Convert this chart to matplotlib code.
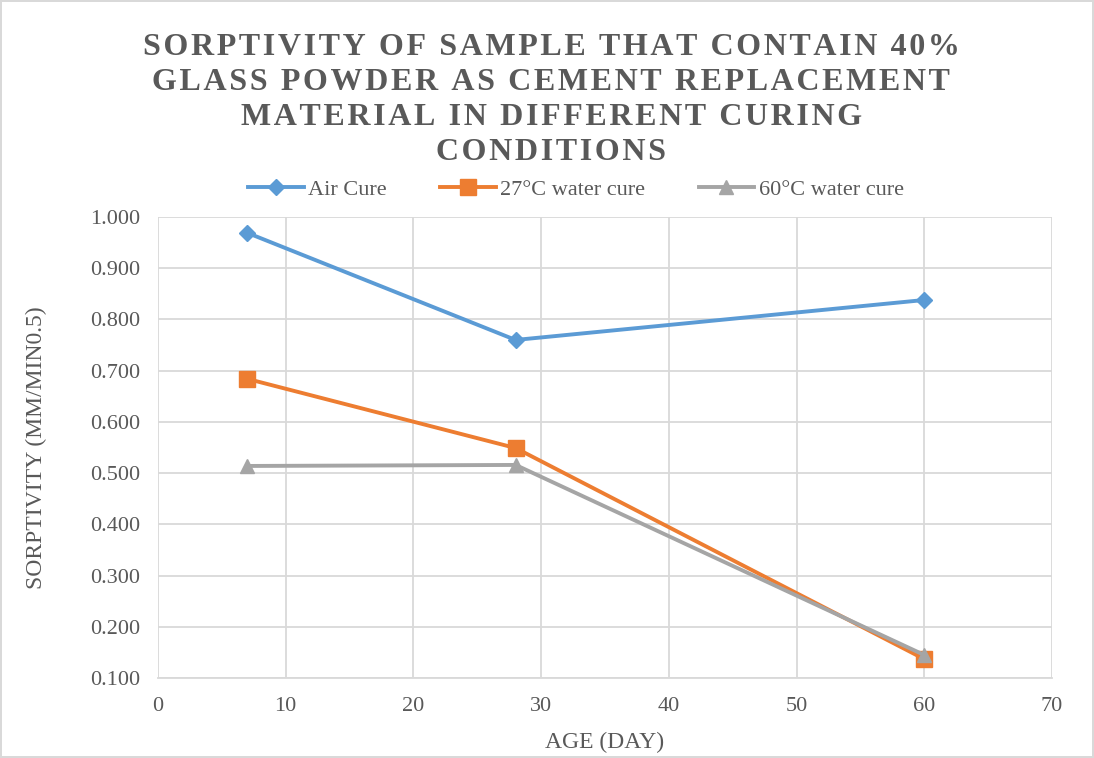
import matplotlib.pyplot as plt
from matplotlib.ticker import FormatStrFormatter

# data
age = [7, 28, 60]
air_cure = [0.969, 0.760, 0.838]
water_27 = [0.684, 0.549, 0.137]
water_60 = [0.514, 0.516, 0.145]

title_lines = ['SORPTIVITY OF SAMPLE THAT CONTAIN 40%',
               'GLASS POWDER AS CEMENT REPLACEMENT',
               'MATERIAL IN DIFFERENT CURING',
               'CONDITIONS']

plt.rcParams['font.family'] = ['Liberation Serif', 'DejaVu Serif']

fig = plt.figure(figsize=(10.94, 7.58), dpi=100)
fig.patch.set_edgecolor('#d9d9d9')
fig.patch.set_linewidth(1.5)
ax = fig.add_axes([0.1444, 0.1055, 0.8172, 0.6082])

ax.plot(age, air_cure, color='#5B9BD5', marker='D', markersize=8, linewidth=2.8, label='Air Cure')
ax.plot(age, water_27, color='#ED7D31', marker='s', markersize=11, linewidth=2.8, label='27°C water cure')
ax.plot(age, water_60, color='#A5A5A5', marker='^', markersize=10, linewidth=2.8, label='60°C water cure')

ax.set_xlim(0, 70)
ax.set_ylim(0.1, 1.0)
ax.set_xticks(range(0, 71, 10))
ax.set_yticks([0.1 * i for i in range(1, 11)])
ax.yaxis.set_major_formatter(FormatStrFormatter('%.3f'))
ax.grid(True, color='#d9d9d9', linewidth=1.3)
ax.set_axisbelow(True)
for s in ['top', 'right', 'left']:
    ax.spines[s].set_visible(False)
ax.spines['bottom'].set_color('#d9d9d9')
ax.spines['bottom'].set_linewidth(1.3)
ax.tick_params(length=0, labelsize=16, colors='#595959')
ax.tick_params(axis='y', pad=13)
ax.tick_params(axis='x', pad=14)

ax.set_xlabel('AGE (DAY)', fontsize=17, color='#595959')
ax.set_ylabel('SORPTIVITY (MM/MIN0.5)', fontsize=17, color='#595959')
ax.xaxis.set_label_coords(0.5, -0.117)
ax.yaxis.set_label_coords(-0.124, 0.5)

# spaced-out bold title, like the Excel original
spaced = ['\u200a'.join(line) for line in title_lines]
fig.text(0.504, 0.868, '\n'.join(spaced),
         ha='center', va='center', fontsize=23, fontweight='bold', color='#595959',
         linespacing=1.26)

ax.legend(loc='center', bbox_to_anchor=(0.4676, 1.0586), ncol=3, frameon=False,
          fontsize=16, labelcolor='#595959', handlelength=2.5, columnspacing=2.4,
          handletextpad=0.2)

plt.savefig('out.png', dpi=100)
